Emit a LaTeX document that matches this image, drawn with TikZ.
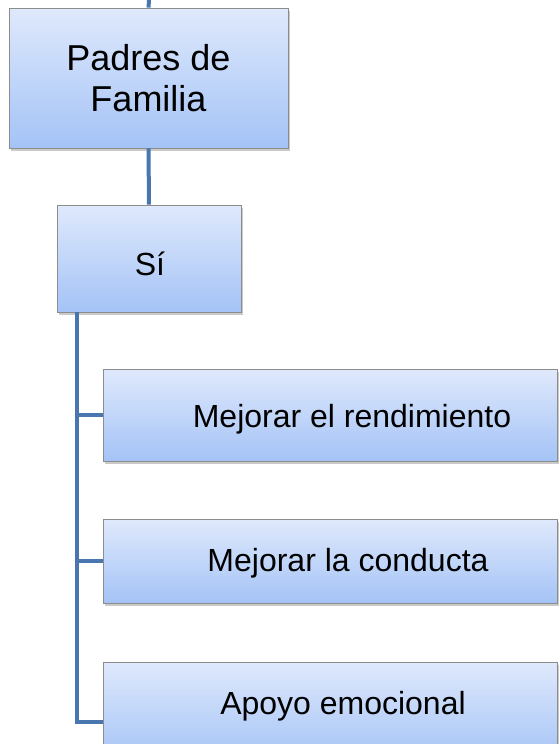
\documentclass[tikz,border=0pt]{standalone}
\usepackage{fontspec}
\setmainfont{Liberation Sans}
\usetikzlibrary{shadows}
\definecolor{boxtop}{HTML}{DFE9FC}
\definecolor{boxbot}{HTML}{A4C3F6}
\definecolor{boxline}{HTML}{8C8C8C}
\definecolor{conn}{HTML}{4A76B0}
\tikzset{
  orgbox/.style={draw=boxline, line width=0.8pt, top color=boxtop, bottom color=boxbot,
    rectangle, inner sep=0pt, align=center, text=black,
    drop shadow={shadow xshift=2pt, shadow yshift=-3pt, opacity=0.35, fill=black!60}},
  link/.style={draw=conn, line width=4pt},
  bigtxt/.style={font=\fontsize{36}{41}\selectfont},
  midtxt/.style={font=\fontsize{32}{37}\selectfont, inner sep=0pt}
}
\begin{document}
\begin{tikzpicture}[x=1pt,y=-1pt]
\useasboundingbox (0,0) rectangle (559,744);
\clip (0,0) rectangle (559,744);
\coordinate (topin) at (149,0);
\node[orgbox, bigtxt, minimum width=279pt, minimum height=140pt] (padres) at (148.5,78) {Padres de\\Familia};
\node[orgbox, minimum width=184pt, minimum height=107pt] (si) at (149,258.5) {};
\node[midtxt] (sit) at (150,264) {Sí};
\node[orgbox, minimum width=454pt, minimum height=92pt] (b1) at (330,415) {};
\node[midtxt] (b1t) at (352,419) {Mejorar el rendimiento};
\node[orgbox, minimum width=454pt, minimum height=84pt] (b2) at (330,561) {};
\node[midtxt] (b2t) at (348,563) {Mejorar la conducta};
\node[orgbox, minimum width=454pt, minimum height=100pt] (b3) at (330,712) {};
\node[midtxt] (b3t) at (343,706) {Apoyo emocional};
\coordinate (trunk) at ([xshift=20pt]si.south west);
\draw[link] (topin) -- (padres.north);
\draw[link] (padres.south) -- (si.north);
\draw[link] (trunk) |- (b1.west);
\draw[link] (trunk) |- (b2.west);
\draw[link] (trunk) |- ([yshift=-10pt]b3.west);
\end{tikzpicture}
\end{document}
